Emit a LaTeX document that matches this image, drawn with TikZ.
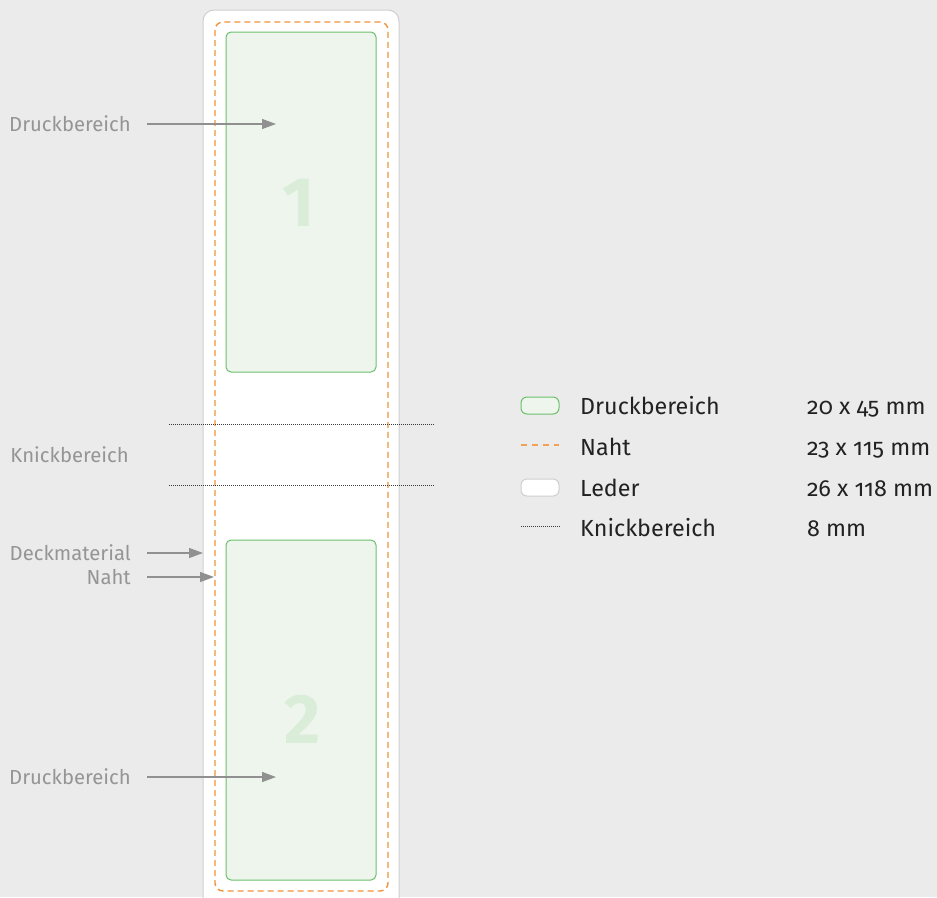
\documentclass[tikz,border=0pt]{standalone}
\usepackage{fontspec}
\setmainfont{Fira Sans}[Numbers=OldStyle]
\newfontfamily\bignum{Fira Sans}[Numbers=Lining]
\usetikzlibrary{arrows.meta}
\definecolor{bg}{HTML}{EBEBEB}
\definecolor{leathergray}{HTML}{CFCFCF}
\definecolor{seam}{HTML}{F0923A}
\definecolor{printgreen}{HTML}{6CC06C}
\definecolor{printfill}{HTML}{EEF5EC}
\definecolor{numgreen}{HTML}{D9EDD9}
\definecolor{labelgray}{HTML}{959595}
\definecolor{arrowgray}{HTML}{909090}
\definecolor{legendtext}{HTML}{222222}
\definecolor{knick}{HTML}{3A3A3A}
\tikzset{
  leather/.style={fill=white, draw=leathergray, line width=1pt, rounded corners=11pt},
  seamline/.style={draw=seam, line width=1.4pt, dash pattern=on 6pt off 4pt},
  printarea/.style={fill=printfill, draw=printgreen, line width=1pt, rounded corners=5pt},
  knickline/.style={draw=knick, line width=1pt, dash pattern=on 1pt off 1pt},
  sidelabel/.style={font=\fontsize{20.3}{23}\selectfont, text=labelgray, inner sep=0pt},
  legendlabel/.style={font=\fontsize{23.3}{26}\selectfont, text=legendtext, inner sep=0pt, anchor=base west},
  arr/.style={draw=arrowgray, line width=1.2pt, -{Triangle[length=14pt,width=10pt]}},
  bignumber/.style={font=\bignum\bfseries\fontsize{70}{70}\selectfont, text=numgreen, inner sep=0pt},
}
\begin{document}
\begin{tikzpicture}[x=1pt,y=-1pt]
\useasboundingbox (0,0) rectangle (937,897);
\fill[bg] (0,0) rectangle (937,897);
% leather
\draw[leather] (203,10) rectangle (399,915);
% seam
\draw[seamline, rounded corners=8pt] (215,22) rectangle (388,891);
% print areas
\draw[printarea] (226,32) rectangle (376,372);
\draw[printarea] (226,540) rectangle (376,880);
\node[bignumber] (n1) at (299,203) {1};
\node[bignumber] (n2) at (303,719) {2};
% knick lines
\coordinate (k1a) at (169,424); \coordinate (k1b) at (434,424);
\coordinate (k2a) at (169,485); \coordinate (k2b) at (434,485);
\draw[knickline] (k1a) -- (k1b);
\draw[knickline] (k2a) -- (k2b);
% side labels
\node[sidelabel, anchor=base east] (l1) at (131,131) {Druckbereich};
\node[sidelabel, anchor=base east] (l2) at (129,462) {Knickbereich};
\node[sidelabel, anchor=base east] (l3) at (131,560) {Deckmaterial};
\node[sidelabel, anchor=base east] (l4) at (131,584) {Naht};
\node[sidelabel, anchor=base east] (l5) at (131,784) {Druckbereich};
\coordinate (a1s) at (147,124); \coordinate (a1e) at (276,124);
\coordinate (a3s) at (147,553); \coordinate (a3e) at (203,553);
\coordinate (a4s) at (147,577); \coordinate (a4e) at (214,577);
\coordinate (a5s) at (147,777); \coordinate (a5e) at (276,777);
\draw[arr] (a1s) -- (a1e);
\draw[arr] (a3s) -- (a3e);
\draw[arr] (a4s) -- (a4e);
\draw[arr] (a5s) -- (a5e);
% legend icons
\draw[printarea, rounded corners=6pt] (521,397) rectangle (559,414);
\coordinate (ln1) at (521,445); \coordinate (ln2) at (559,445);
\draw[draw=seam!85, line width=1.3pt, dash pattern=on 6pt off 5pt] (ln1) -- (ln2);
\draw[leather, rounded corners=6pt] (521,479) rectangle (559,496);
\coordinate (lk1) at (521,526); \coordinate (lk2) at (561,526);
\draw[knickline] (lk1) -- (lk2);
% legend texts
\node[legendlabel] (t1) at (580,414) {Druckbereich};
\node[legendlabel] (t2) at (580,455) {Naht};
\node[legendlabel] (t3) at (580,496) {Leder};
\node[legendlabel] (t4) at (580,536) {Knickbereich};
\node[legendlabel] (v1) at (807,414) {20 x 45 mm};
\node[legendlabel] (v2) at (807,455) {23 x 115 mm};
\node[legendlabel] (v3) at (807,496) {26 x 118 mm};
\node[legendlabel] (v4) at (807,536) {8 mm};
\end{tikzpicture}
\end{document}
